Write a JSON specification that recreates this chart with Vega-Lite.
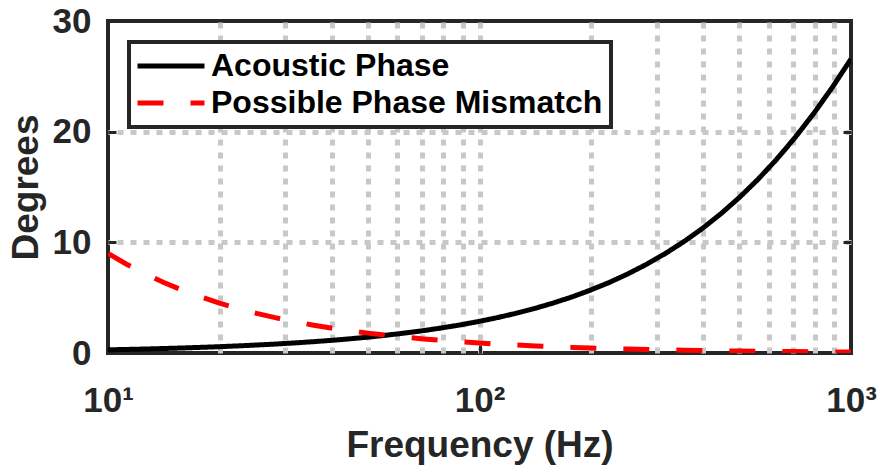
{
  "$schema": "https://vega.github.io/schema/vega-lite/v6.json",
  "width": 743,
  "height": 332,
  "autosize": "none",
  "padding": {"left": 108, "top": 21, "right": 30, "bottom": 112},
  "background": "white",
  "config": {
    "view": {"stroke": "#262626", "strokeWidth": 4},
    "font": "Liberation Sans",
    "axis": {
      "labelFont": "Liberation Sans",
      "titleFont": "Liberation Sans",
      "labelFontWeight": "bold",
      "titleFontWeight": "bold",
      "labelColor": "#262626",
      "titleColor": "#262626",
      "tickColor": "#262626",
      "gridColor": "#c8c8c8",
      "gridWidth": 5,
      "gridDash": [6, 7],
      "labelFlush": false,
      "labelOverlap": false,
      "labelBound": false
    },
    "legend": {
      "orient": "none",
      "legendX": 21,
      "legendY": 21,
      "padding": 8,
      "rowPadding": 5,
      "symbolType": "M-3,0H3",
      "symbolSize": 499,
      "symbolOffset": 18,
      "symbolStrokeWidth": 5,
      "labelFont": "Liberation Sans",
      "labelFontSize": 32,
      "labelFontWeight": "bold",
      "labelColor": "black",
      "labelOffset": 24,
      "labelLimit": 1000,
      "strokeColor": "#262626",
      "strokeWidth": 4,
      "fillColor": "white"
    }
  },
  "data": {
    "values": [
      {"f": 10, "Acoustic Phase": 0.2865, "Possible Phase Mismatch": 9.0},
      {"f": 11.22, "Acoustic Phase": 0.3214, "Possible Phase Mismatch": 8.021},
      {"f": 12.59, "Acoustic Phase": 0.3607, "Possible Phase Mismatch": 7.148},
      {"f": 14.13, "Acoustic Phase": 0.4048, "Possible Phase Mismatch": 6.369},
      {"f": 15.85, "Acoustic Phase": 0.4541, "Possible Phase Mismatch": 5.678},
      {"f": 17.78, "Acoustic Phase": 0.5094, "Possible Phase Mismatch": 5.062},
      {"f": 19.95, "Acoustic Phase": 0.5715, "Possible Phase Mismatch": 4.511},
      {"f": 22.39, "Acoustic Phase": 0.6414, "Possible Phase Mismatch": 4.02},
      {"f": 25.12, "Acoustic Phase": 0.7196, "Possible Phase Mismatch": 3.583},
      {"f": 28.18, "Acoustic Phase": 0.8073, "Possible Phase Mismatch": 3.194},
      {"f": 31.62, "Acoustic Phase": 0.9058, "Possible Phase Mismatch": 2.846},
      {"f": 35.48, "Acoustic Phase": 1.0164, "Possible Phase Mismatch": 2.537},
      {"f": 39.81, "Acoustic Phase": 1.1404, "Possible Phase Mismatch": 2.261},
      {"f": 44.67, "Acoustic Phase": 1.2795, "Possible Phase Mismatch": 2.015},
      {"f": 50.12, "Acoustic Phase": 1.4355, "Possible Phase Mismatch": 1.796},
      {"f": 56.23, "Acoustic Phase": 1.6105, "Possible Phase Mismatch": 1.601},
      {"f": 63.1, "Acoustic Phase": 1.8071, "Possible Phase Mismatch": 1.426},
      {"f": 70.79, "Acoustic Phase": 2.0272, "Possible Phase Mismatch": 1.271},
      {"f": 79.43, "Acoustic Phase": 2.2743, "Possible Phase Mismatch": 1.133},
      {"f": 89.13, "Acoustic Phase": 2.5517, "Possible Phase Mismatch": 1.01},
      {"f": 100, "Acoustic Phase": 2.8624, "Possible Phase Mismatch": 0.9},
      {"f": 112.2, "Acoustic Phase": 3.2109, "Possible Phase Mismatch": 0.802},
      {"f": 125.9, "Acoustic Phase": 3.602, "Possible Phase Mismatch": 0.715},
      {"f": 141.3, "Acoustic Phase": 4.0412, "Possible Phase Mismatch": 0.637},
      {"f": 158.5, "Acoustic Phase": 4.5312, "Possible Phase Mismatch": 0.568},
      {"f": 177.8, "Acoustic Phase": 5.0803, "Possible Phase Mismatch": 0.506},
      {"f": 199.5, "Acoustic Phase": 5.6964, "Possible Phase Mismatch": 0.451},
      {"f": 223.9, "Acoustic Phase": 6.3877, "Possible Phase Mismatch": 0.402},
      {"f": 251.2, "Acoustic Phase": 7.1589, "Possible Phase Mismatch": 0.358},
      {"f": 281.8, "Acoustic Phase": 8.0202, "Possible Phase Mismatch": 0.319},
      {"f": 316.2, "Acoustic Phase": 8.9841, "Possible Phase Mismatch": 0.285},
      {"f": 354.8, "Acoustic Phase": 10.0596, "Possible Phase Mismatch": 0.254},
      {"f": 398.1, "Acoustic Phase": 11.2576, "Possible Phase Mismatch": 0.226},
      {"f": 446.7, "Acoustic Phase": 12.59, "Possible Phase Mismatch": 0.201},
      {"f": 501.2, "Acoustic Phase": 14.068, "Possible Phase Mismatch": 0.18},
      {"f": 562.3, "Acoustic Phase": 15.703, "Possible Phase Mismatch": 0.16},
      {"f": 631.0, "Acoustic Phase": 17.51, "Possible Phase Mismatch": 0.143},
      {"f": 707.9, "Acoustic Phase": 19.491, "Possible Phase Mismatch": 0.127},
      {"f": 794.3, "Acoustic Phase": 21.66, "Possible Phase Mismatch": 0.113},
      {"f": 891.3, "Acoustic Phase": 24.02, "Possible Phase Mismatch": 0.101},
      {"f": 1000, "Acoustic Phase": 26.565, "Possible Phase Mismatch": 0.09}
    ]
  },
  "transform": [
    {"fold": ["Acoustic Phase", "Possible Phase Mismatch"], "as": ["series", "deg"]}
  ],
  "layer": [
    {
      "transform": [{"filter": "datum.series == 'Acoustic Phase'"}],
      "mark": {"type": "line", "strokeWidth": 5, "strokeCap": "butt", "clip": true},
      "encoding": {
        "x": {
          "field": "f", "type": "quantitative",
          "scale": {"type": "log", "domain": [10, 1000], "nice": false},
          "axis": {
            "orient": "bottom",
            "values": [10, 100, 1000],
            "labelExpr": "datum.value == 10 ? '10¹' : datum.value == 100 ? '10²' : '10³'",
            "labelFontSize": 35,
            "labelBaseline": "alphabetic",
            "labelPadding": 66,
            "domain": false,
            "grid": false,
            "ticks": true,
            "tickSize": -8,
            "tickWidth": 3,
            "title": "Frequency (Hz)",
            "titleFontSize": 37,
            "titleBaseline": "alphabetic",
            "titleAnchor": "middle",
            "titleY": 103,
            "titleX": 371.5
          }
        },
        "y": {
          "field": "deg", "type": "quantitative",
          "scale": {"domain": [0, 30], "nice": false},
          "axis": {
            "orient": "left",
            "values": [0, 10, 20, 30],
            "labelFontSize": 35,
            "labelBaseline": "middle",
            "labelPadding": 25,
            "domain": false,
            "grid": false,
            "ticks": true,
            "tickSize": -8,
            "tickWidth": 3,
            "title": "Degrees",
            "titleFontSize": 37,
            "titleBaseline": "alphabetic",
            "titleAngle": -90,
            "titleX": -71,
            "titleY": 166
          }
        },
        "color": {
          "field": "series", "type": "nominal",
          "scale": {"domain": ["Acoustic Phase", "Possible Phase Mismatch"], "range": ["#000000", "#ff0000"]},
          "legend": {"title": null}
        },
        "strokeDash": {
          "field": "series", "type": "nominal",
          "scale": {"domain": ["Acoustic Phase", "Possible Phase Mismatch"], "range": [[1, 0], [26, 27]]},
          "legend": {"title": null}
        }
      }
    },
    {
      "transform": [{"filter": "datum.series == 'Possible Phase Mismatch'"}],
      "mark": {"type": "line", "strokeWidth": 5, "strokeCap": "butt", "clip": true},
      "encoding": {
        "x": {
          "field": "f", "type": "quantitative",
          "scale": {"type": "log", "domain": [10, 1000], "nice": false},
          "axis": {
            "orient": "top",
            "values": [20, 30, 40, 50, 60, 70, 80, 90, 100, 200, 300, 400, 500, 600, 700, 800, 900],
            "labels": false,
            "domain": false,
            "grid": true,
            "ticks": false,
            "title": null
          }
        },
        "y": {
          "field": "deg", "type": "quantitative",
          "scale": {"domain": [0, 30], "nice": false},
          "axis": {
            "orient": "right",
            "values": [10, 20],
            "labels": false,
            "domain": false,
            "grid": true,
            "ticks": true,
            "tickSize": -8,
            "tickWidth": 3,
            "title": null
          }
        },
        "color": {
          "field": "series", "type": "nominal",
          "scale": {"domain": ["Acoustic Phase", "Possible Phase Mismatch"], "range": ["#000000", "#ff0000"]},
          "legend": {"title": null}
        },
        "strokeDash": {
          "field": "series", "type": "nominal",
          "scale": {"domain": ["Acoustic Phase", "Possible Phase Mismatch"], "range": [[1, 0], [26, 27]]},
          "legend": {"title": null}
        }
      }
    }
  ],
  "resolve": {"axis": {"x": "independent", "y": "independent"}}
}
